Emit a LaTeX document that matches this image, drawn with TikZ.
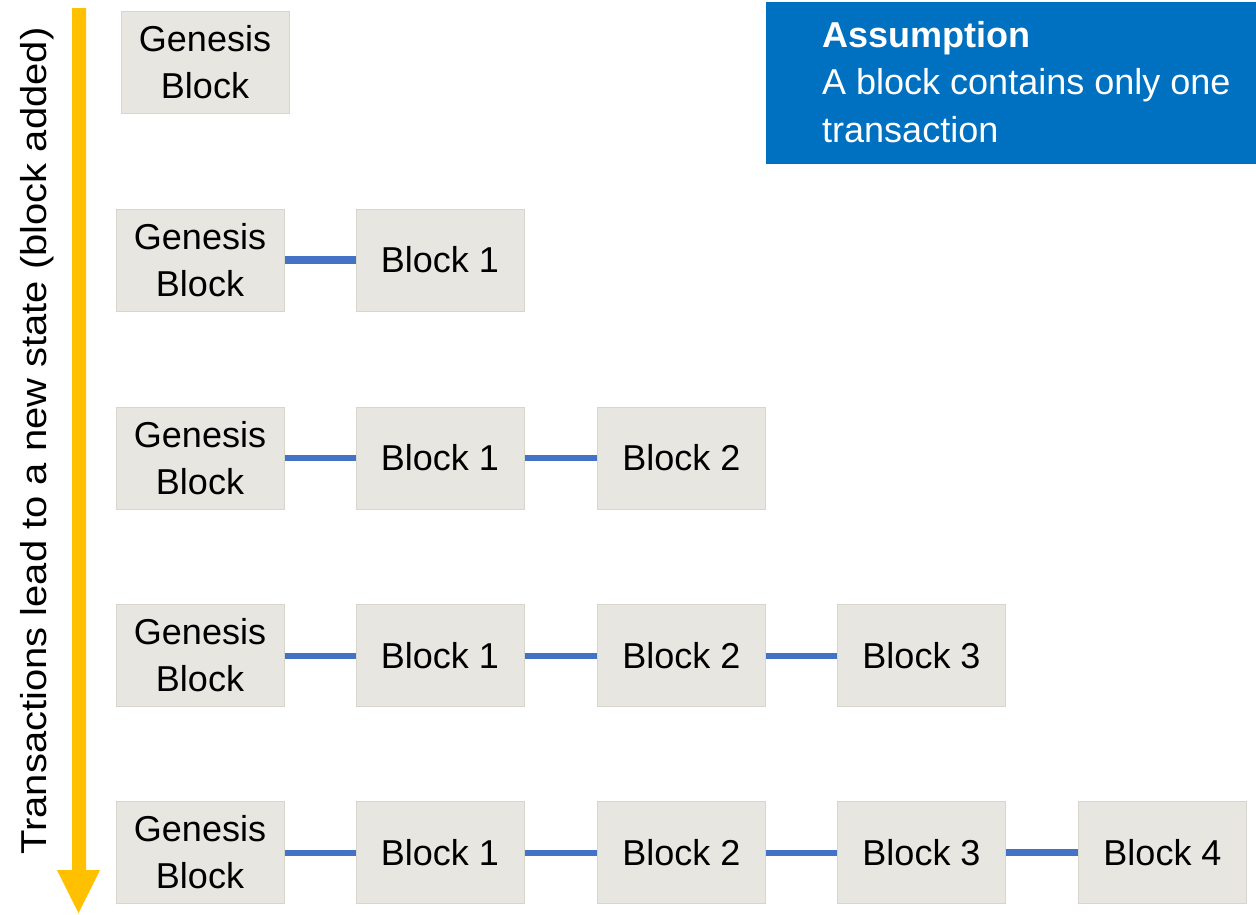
\documentclass[tikz,border=0pt]{standalone}
\usepackage{fontspec}
\setmainfont{Liberation Sans}
\definecolor{blockfill}{HTML}{E8E6E0}
\definecolor{blockline}{HTML}{D8D5CD}
\definecolor{linkblue}{HTML}{4472C4}
\definecolor{timeorange}{HTML}{FFC000}
\definecolor{notebox}{HTML}{0070C0}
\begin{document}
\begin{tikzpicture}[x=1pt,y=-1pt,
  blockbox/.style={draw=blockline,fill=blockfill,line width=1pt,
    minimum width=168pt,minimum height=102pt,inner sep=0pt,align=center,
    font=\fontsize{36pt}{47pt}\selectfont},
  link/.style={draw=linkblue,line width=6pt},
  linkthick/.style={draw=linkblue,line width=7.5pt}]
\useasboundingbox (0,0) rectangle (1256,914);

% time axis arrow
\fill[timeorange] (72,8) -- (86,8) -- (86,870) -- (100,870) -- (78.5,913)
  -- (57,870) -- (72,870) -- cycle;
\node[rotate=90,inner sep=0pt,font=\fontsize{36pt}{44pt}\selectfont] (axis) at (37,441)
  {\scalebox{1.11}[1]{Transactions lead to a new state (block added)}};

% assumption note
\fill[notebox] (766,2) rectangle (1256,164);
\node[anchor=north west,inner sep=0pt,align=left,text=white,
  font=\fontsize{36pt}{47.5pt}\selectfont] (note) at (822,21)
  {\textbf{Assumption}\\A block contains only one\\transaction};

% state 0
\node[blockbox] (g0) at (205,62) {Genesis\\Block};

% state 1
\node[blockbox] (g1) at (200,260) {Genesis\\Block};
\node[blockbox] (b11) at (440,260) {Block 1};
\draw[linkthick] (g1) -- (b11);

% state 2
\node[blockbox] (g2) at (200,458) {Genesis\\Block};
\node[blockbox] (b21) at (440,458) {Block 1};
\node[blockbox] (b22) at (681.5,458) {Block 2};
\draw[link] (g2) -- (b21);
\draw[link] (b21) -- (b22);

% state 3
\node[blockbox] (g3) at (200,655.5) {Genesis\\Block};
\node[blockbox] (b31) at (440,655.5) {Block 1};
\node[blockbox] (b32) at (681.5,655.5) {Block 2};
\node[blockbox] (b33) at (921.5,655.5) {Block 3};
\draw[link] (g3) -- (b31);
\draw[link] (b31) -- (b32);
\draw[link] (b32) -- (b33);

% state 4
\node[blockbox] (g4) at (200,852.5) {Genesis\\Block};
\node[blockbox] (b41) at (440,852.5) {Block 1};
\node[blockbox] (b42) at (681.5,852.5) {Block 2};
\node[blockbox] (b43) at (921.5,852.5) {Block 3};
\node[blockbox] (b44) at (1162.5,852.5) {Block 4};
\draw[link] (g4) -- (b41);
\draw[link] (b41) -- (b42);
\draw[link] (b42) -- (b43);
\draw[linkthick] (b43) -- (b44);
\end{tikzpicture}
\end{document}
